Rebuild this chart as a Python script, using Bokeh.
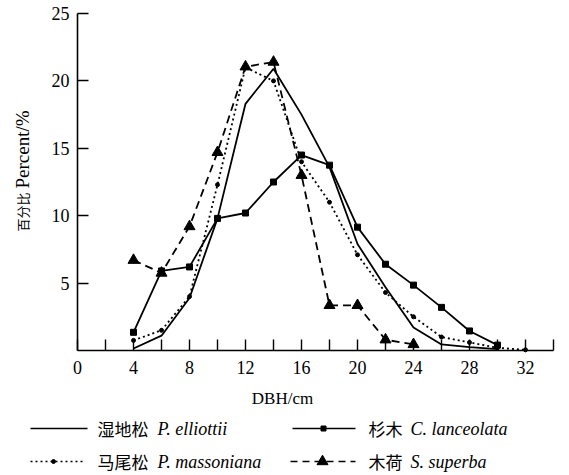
import math
from bokeh.plotting import figure
from bokeh.models import Range1d, FixedTicker, LinearAxis
from bokeh.embed import file_html
from bokeh.resources import INLINE
from bokeh.core.properties import value

# ---- data ----
dbh = [4, 6, 8, 10, 12, 14, 16, 18, 20, 22, 24, 26, 28, 30]
dbh_massoniana = [4, 6, 8, 10, 12, 14, 16, 18, 20, 22, 24, 26, 28, 30, 32]
dbh_superba = [4, 6, 8, 10, 12, 14, 16, 18, 20, 22, 24]

elliottii = [0.15, 1.1, 3.9, 9.8, 18.3, 20.9, 17.5, 13.6, 7.9, 4.7, 1.7, 0.45, 0.25, 0.1]
lanceolata = [1.35, 5.9, 6.2, 9.8, 10.2, 12.5, 14.5, 13.75, 9.15, 6.4, 4.85, 3.2, 1.45, 0.4]
massoniana = [0.75, 1.5, 4.0, 12.3, 21.0, 20.0, 14.0, 11.0, 7.1, 4.3, 2.5, 1.0, 0.6, 0.2, 0.05]
superba = [6.7, 5.75, 9.2, 14.7, 21.05, 21.4, 13.0, 3.35, 3.35, 0.8, 0.45]

x_major_ticks = [0, 4, 8, 12, 16, 20, 24, 28, 32]
x_minor_ticks = [2, 6, 10, 14, 18, 22, 26, 30, 34]
y_ticks = [5, 10, 15, 20, 25]

x_label = "DBH/cm"
y_label_cn = "百分比"
y_label_latin = "Percent/%"
legend_cn = ["湿地松", "杉木", "马尾松", "木荷"]
legend_latin = ["P. elliottii", "C. lanceolata", "P. massoniana", "S. superba"]

SERIF = "Liberation Serif"
CJK = "Noto Sans CJK SC"

# ---- layout: one frame covering the whole canvas; axes pinned at 0 ----
W, H = 569, 475
X0_PX, Y0_PX = 77, 350          # pixel position of data origin
SX, SY = 14.0, 13.48            # pixels per data unit


def gx(px):
    return (px - X0_PX) / SX


def gy(py):
    return (Y0_PX - py) / SY


p = figure(width=W, height=H, x_range=Range1d(gx(0), gx(W)), y_range=Range1d(gy(H), gy(0)),
           x_axis_type=None, y_axis_type=None, min_border=0,
           output_backend="svg", toolbar_location=None)
p.min_border_left = p.min_border_right = p.min_border_top = p.min_border_bottom = 0
p.xgrid.visible = False
p.ygrid.visible = False
p.outline_line_color = None
p.background_fill_color = "white"
p.border_fill_color = "white"

xax = LinearAxis(fixed_location=0, bounds=(0, 34),
                 ticker=FixedTicker(ticks=x_major_ticks, minor_ticks=x_minor_ticks))
yax = LinearAxis(fixed_location=0, bounds=(0, 25),
                 ticker=FixedTicker(ticks=y_ticks, minor_ticks=[]))
for ax in (xax, yax):
    ax.axis_line_color = "black"
    ax.axis_line_width = 1.6
    ax.major_tick_line_color = "black"
    ax.major_tick_line_width = 1.4
    ax.minor_tick_line_color = "black"
    ax.minor_tick_line_width = 1.4
    ax.major_tick_in = 11
    ax.major_tick_out = 0
    ax.minor_tick_in = 11
    ax.minor_tick_out = 0
    ax.major_label_text_font = SERIF
    ax.major_label_text_font_size = "18px"
    ax.major_label_text_color = "black"
xax.major_label_standoff = 10
yax.major_label_standoff = 8
p.add_layout(xax, "below")
p.add_layout(yax, "left")

# axis titles
p.text([gx(282)], [gy(398)], text=[x_label], text_font=value(SERIF), text_font_size="17px",
       text_align="center", text_baseline="middle", text_color="black")
p.text([gx(22)], [gy(231)], text=[y_label_cn], angle=math.pi / 2, text_font=value(CJK),
       text_font_size="13px", text_align="left", text_baseline="middle", text_color="black")
p.text([gx(22)], [gy(188)], text=[y_label_latin], angle=math.pi / 2, text_font=value(SERIF),
       text_font_size="19px", text_align="left", text_baseline="middle", text_color="black")

# series
LW = 1.8
p.line(dbh, elliottii, line_color="black", line_width=LW)
p.line(dbh, lanceolata, line_color="black", line_width=LW)
p.scatter(dbh, lanceolata, marker="square", size=6, fill_color="black", line_color="black")
p.line(dbh_massoniana, massoniana, line_color="black", line_width=LW, line_dash="2 3")
p.scatter(dbh_massoniana, massoniana, marker="circle", size=4, fill_color="black", line_color="black")
p.line(dbh_superba, superba, line_color="black", line_width=LW, line_dash="8 5")
p.scatter(dbh_superba, superba, marker="triangle", size=11, fill_color="black", line_color="black")

# legend (below the chart, two columns)
styles = [
    dict(x0=30, x1=87, y=428, dash="solid", marker=None, mx=None, size=0, tx=97, lx=157),
    dict(x0=292, x1=355, y=428, dash="solid", marker="square", mx=323, size=5, tx=368, lx=410),
    dict(x0=30, x1=82, y=461, dash="2 3", marker="circle", mx=53, size=4, tx=97, lx=157),
    dict(x0=290, x1=355, y=461, dash="7 5", marker="triangle", mx=322, size=11, tx=368, lx=410),
]
for st, cn, lt in zip(styles, legend_cn, legend_latin):
    yy = gy(st["y"])
    p.line([gx(st["x0"]), gx(st["x1"])], [yy, yy], line_color="black", line_width=1.6,
           line_dash=st["dash"])
    if st["marker"]:
        p.scatter([gx(st["mx"])], [yy], marker=st["marker"], size=st["size"],
                  fill_color="black", line_color="black")
    p.text([gx(st["tx"])], [yy], text=[cn], text_font=value(CJK), text_font_size="17px",
           text_baseline="middle", text_align="left", text_color="black")
    p.text([gx(st["lx"])], [yy], text=[lt], text_font=value(SERIF), text_font_size="18px",
           text_font_style="italic", text_baseline="middle", text_align="left", text_color="black")

open("out.html", "w").write(file_html(p, INLINE))
